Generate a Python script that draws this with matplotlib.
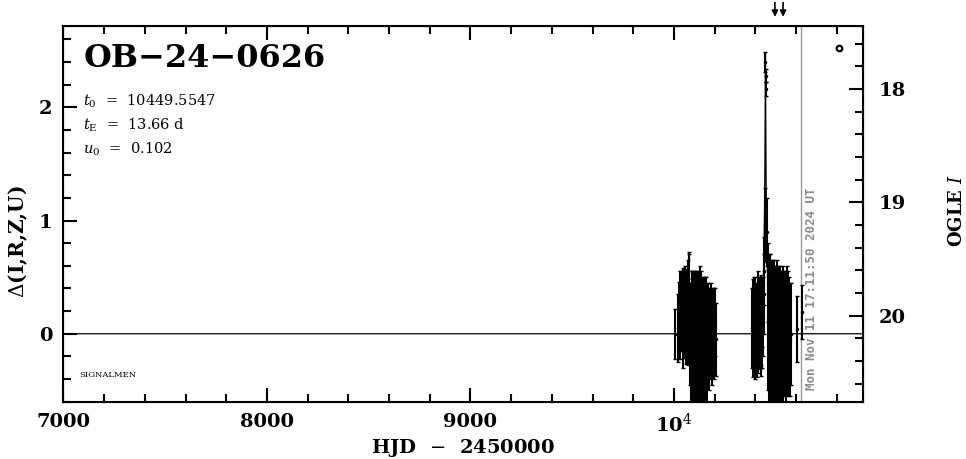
import numpy as np
import matplotlib
matplotlib.use("Agg")
import matplotlib.pyplot as plt
from matplotlib.ticker import MultipleLocator, FixedLocator

plt.rcParams['mathtext.fontset'] = 'dejavuserif'

# event info
event_name = "OB-24-0626"
t0 = 10449.5547
tE = 13.66
u0 = 0.102
base_mag = 20.16
run_date = "Mon Nov 11 17:11:50 2024 UT"
run_hjd = 10626.2
arrow_hjd = [10496, 10536]

xlim = (7000, 10929)
ylim = (-0.6, 2.72)
xtick_pos = [7000, 8000, 9000, 10000]
xtick_lab = ["7000", "8000", "9000", r"10$^4$"]
ytick_pos = [0, 1, 2]
mag_ticks = [18, 19, 20]

# OGLE photometry (HJD-2450000, delta mag, error)
hjd = [10005,
       10022, 10025, 10028, 10031, 10034, 10037, 10040, 10043, 10046, 10049,
       10052, 10055, 10058, 10061, 10064, 10067, 10070, 10073, 10076,
       10080, 10084, 10087, 10090, 10093, 10096, 10099, 10102, 10105, 10108,
       10111, 10114, 10117, 10120, 10123, 10126, 10129, 10132, 10135, 10138,
       10141, 10144, 10147, 10150, 10153, 10156, 10160, 10164, 10168, 10172,
       10176, 10180, 10185, 10190, 10196, 10202, 10208,
       10384, 10387, 10390, 10393, 10396, 10399, 10402, 10405, 10408, 10411,
       10414, 10417, 10420, 10423, 10426, 10429, 10432, 10435, 10438, 10440,
       10443, 10445, 10449.6, 10450.3, 10451.2, 10456, 10460,
       10464, 10467, 10470, 10473, 10476, 10479, 10482, 10485, 10488, 10491,
       10494, 10497, 10500, 10503, 10506, 10509, 10512, 10515, 10518, 10521,
       10524, 10527, 10530, 10534, 10538, 10542, 10546, 10550, 10555, 10560,
       10565, 10570, 10576,
       10605, 10629]
dmag = [0.00,
        0.05, 0.18, 0.25, 0.10, 0.30, 0.15, 0.22, 0.05, 0.28, 0.12,
        0.20, 0.32, 0.08, 0.25, 0.18, 0.35, 0.10, 0.30, 0.35,
        0.00, -0.10, 0.05, -0.05, 0.10, -0.15, 0.00, -0.20, 0.05, -0.10,
        0.10, -0.05, -0.25, 0.05, -0.10, 0.00, -0.15, 0.10, -0.05, -0.20,
        0.05, -0.10, 0.00, -0.15, 0.05, -0.05, 0.00, -0.10, 0.05, -0.05,
        0.00, 0.10, -0.05, 0.05, 0.00, 0.10, -0.05,
        0.05, 0.10, -0.05, 0.15, 0.00, 0.20, 0.05, 0.10, -0.05, 0.15,
        0.00, 0.10, 0.20, 0.05, 0.12, -0.02, 0.18, 0.08, 0.15, 0.35,
        0.55, 0.96, 2.40, 2.28, 2.16, 0.90, 0.45,
        0.10, -0.05, 0.15, 0.00, -0.10, 0.10, -0.15, 0.05, -0.05, 0.10,
        -0.20, 0.00, 0.05, -0.10, 0.10, -0.15, 0.00, 0.05, -0.10, 0.10,
        -0.05, 0.00, -0.15, 0.05, -0.10, 0.00, 0.05, -0.05, 0.10, 0.00,
        0.05, -0.05, 0.00,
        0.04, 0.19]
derr = [0.22,
        0.30, 0.28, 0.30, 0.32, 0.25, 0.30, 0.28, 0.35, 0.30, 0.33,
        0.30, 0.28, 0.35, 0.32, 0.30, 0.30, 0.38, 0.40, 0.37,
        0.45, 0.55, 0.50, 0.60, 0.45, 0.60, 0.55, 0.65, 0.50, 0.60,
        0.45, 0.55, 0.70, 0.50, 0.55, 0.60, 0.55, 0.45, 0.50, 0.60,
        0.45, 0.55, 0.50, 0.50, 0.45, 0.55, 0.45, 0.50, 0.40, 0.45,
        0.40, 0.35, 0.40, 0.35, 0.40, 0.30, 0.32,
        0.35, 0.38, 0.33, 0.35, 0.40, 0.30, 0.38, 0.35, 0.33, 0.40,
        0.35, 0.38, 0.30, 0.36, 0.40, 0.35, 0.30, 0.38, 0.35, 0.35,
        0.30, 0.33, 0.09, 0.06, 0.06, 0.30, 0.35,
        0.60, 0.65, 0.55, 0.70, 0.60, 0.55, 0.70, 0.60, 0.65, 0.55,
        0.75, 0.60, 0.55, 0.65, 0.55, 0.70, 0.60, 0.55, 0.65, 0.50,
        0.60, 0.55, 0.65, 0.55, 0.60, 0.55, 0.50, 0.55, 0.50, 0.55,
        0.45, 0.50, 0.45,
        0.29, 0.24]

# model curve
model_t = [7000, 10400, 10420, 10430, 10437, 10440, 10443, 10445, 10447,
           10448.5, 10449.55, 10450.6, 10452, 10454, 10456, 10459.5, 10462,
           10469, 10480, 10500, 10929]
model_d = [0.0, 0.0, 0.02, 0.14, 0.35, 0.52, 0.80, 1.11, 1.55,
           2.10, 2.48, 2.10, 1.55, 1.11, 0.80, 0.52, 0.35,
           0.14, 0.02, 0.0, 0.0]

serif = 'DejaVu Serif'

fig = plt.figure(figsize=(9.66, 4.59), dpi=100)
ax = fig.add_axes([0.0657, 0.1248, 0.8277, 0.8192])

ax.plot(model_t, model_d, color='black', lw=0.9, zorder=3)
ax.errorbar(hjd, dmag, yerr=derr, fmt='o', ms=1.5, color='black',
            ecolor='black', elinewidth=1.5, capsize=1.2, capthick=1.0, zorder=4)
ax.axvline(run_hjd, color='#999999', lw=1.0, zorder=2)
ax.text(run_hjd + 50, -0.5, run_date, rotation=90, ha='center', va='bottom',
        color='#8c8c8c', fontsize=9, family='DejaVu Sans Mono', fontweight='bold')

ax.set_xlim(*xlim)
ax.set_ylim(*ylim)
ax.xaxis.set_major_locator(FixedLocator(xtick_pos))
ax.set_xticklabels(xtick_lab)
ax.xaxis.set_minor_locator(MultipleLocator(200))
ax.yaxis.set_major_locator(FixedLocator(ytick_pos))
ax.yaxis.set_minor_locator(MultipleLocator(0.2))
ax.tick_params(which='both', direction='in', top=True, right=False, width=1.5)
ax.tick_params(which='major', length=10, pad=8, labelsize=14)
ax.tick_params(which='minor', length=5.5)
for lab in ax.get_xticklabels() + ax.get_yticklabels():
    lab.set_fontweight('bold')
    lab.set_family(serif)
for sp in ax.spines.values():
    sp.set_linewidth(1.5)

ax2 = ax.twinx()
ax2.set_ylim(base_mag - ylim[0], base_mag - ylim[1])
ax2.yaxis.set_major_locator(FixedLocator(mag_ticks))
ax2.yaxis.set_minor_locator(MultipleLocator(0.2))
ax2.tick_params(which='both', direction='in', width=1.5)
ax2.tick_params(which='major', length=10, pad=11, labelsize=14)
ax2.tick_params(which='minor', length=5.5)
for lab in ax2.get_yticklabels():
    lab.set_family(serif)
    lab.set_fontweight('bold')
ax2.set_ylabel(r'OGLE $\mathbf{\mathit{I}}$', rotation=90, fontsize=13,
               family=serif, fontweight='bold', va='center')
ax2.yaxis.set_label_coords(1.117, 0.51)

ax.set_xlabel(r'HJD  $-$  2450000', fontsize=14, family=serif,
              fontweight='bold', labelpad=1)
ax.set_ylabel(r'$\Delta$(I,R,Z,U)', fontsize=14.5, family=serif,
              fontweight='bold', va='center')
ax.yaxis.set_label_coords(-0.057, 0.425)

ax.text(0.025, 0.955, event_name.replace('-', '\u2212'), transform=ax.transAxes,
        fontsize=23, family=serif, fontweight='bold', va='top', ha='left')
ax.text(0.025, 0.80, r'$t_0$  =  %.4f' % t0, transform=ax.transAxes,
        fontsize=10.5, family=serif, va='center')
ax.text(0.025, 0.735, r'$t_{\rm E}$  =  %.2f d' % tE, transform=ax.transAxes,
        fontsize=10.5, family=serif, va='center')
ax.text(0.025, 0.67, r'$u_0$  =  %.3f' % u0, transform=ax.transAxes,
        fontsize=10.5, family=serif, va='center')
ax.text(0.02, 0.07, 'SIGNALMEN', transform=ax.transAxes, fontsize=6,
        family=serif, va='center')
ax.plot([0.970], [0.9407], marker='o', ms=4, mfc='none', mec='black', mew=1.6,
        transform=ax.transAxes, clip_on=False)

for xa in arrow_hjd:
    ax.annotate('', xy=(xa, 1.016), xytext=(xa, 1.069),
                xycoords=('data', 'axes fraction'),
                arrowprops=dict(arrowstyle='-|>', color='black', lw=1.2,
                                mutation_scale=9), annotation_clip=False)

fig.savefig('out.png', dpi=100)
